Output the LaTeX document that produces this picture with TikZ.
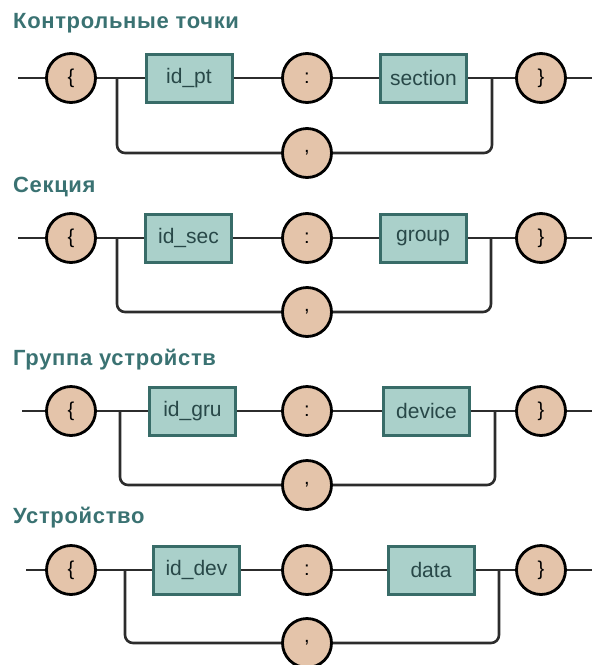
\documentclass[tikz,border=0pt]{standalone}
\usepackage{fontspec}
\setmainfont{Liberation Sans}
\newfontfamily\headfont[LetterSpace=3]{Liberation Sans}
\definecolor{titleteal}{RGB}{58,114,114}
\definecolor{boxfill}{RGB}{170,208,202}
\definecolor{boxedge}{RGB}{56,108,104}
\definecolor{boxtext}{RGB}{40,72,72}
\definecolor{tokfill}{RGB}{228,196,170}
\definecolor{wire}{RGB}{44,44,44}
\tikzset{
  heading/.style={anchor=base west, inner sep=0pt, text=titleteal,
    font=\headfont\fontsize{22}{22}\selectfont\bfseries},
  token/.style={circle, draw=black, fill=tokfill, line width=2.8pt,
    minimum size=49pt, inner sep=0pt, font=\fontsize{20}{20}\selectfont},
  rule/.style={rectangle, draw=boxedge, fill=boxfill, line width=3pt,
    minimum width=86pt, minimum height=48pt, inner sep=0pt,
    text=boxtext, font=\fontsize{21}{21}\selectfont},
  conn/.style={draw=wire, line width=2.6pt},
  loop/.style={conn, rounded corners=8pt},
}
\begin{document}
\begin{tikzpicture}[x=1pt,y=-1pt]
\useasboundingbox (0,0) rectangle (592,665);
\foreach \r/\ty/\my/\ly/\ls/\ba/\bb/\bl/\br/\ttl/\la/\lb in {
  1/28/78/153/18/189/423.5/117/492/{Контрольные точки}/{id\_pt}/{section},
  2/192/238/312/18/188.5/423/117/491/{Секция}/{id\_sec}/{group},
  3/365/411/485/22/192.5/426.5/120/495/{Группа устройств}/{id\_gru}/{device},
  4/523/570/643/26/196.5/431/125/499/{Устройство}/{id\_dev}/{data}}{
  % heading of the rule
  \node[heading] (t\r) at (13,\ty) {\ttl};
  % track ends and branch points
  \coordinate (s\r) at (\ls,\my);
  \coordinate (e\r) at (592,\my);
  \coordinate (jl\r) at (\bl,\my);
  \coordinate (jr\r) at (\br,\my);
  % tokens and rule boxes
  \node[token] (lb\r) at (71,\my) {\{};
  \node[rule]  (ka\r) at (\ba,\my) {\la};
  \node[token] (cl\r) at (307,\my) {:};
  \node[rule]  (vb\r) at (\bb,\my) {\lb};
  \node[token] (rb\r) at (541,\my) {\}};
  \node[token] (cm\r) at (307,\ly) {,};
  % main track
  \draw[conn] (s\r) -- (lb\r);
  \draw[conn] (lb\r) -- (ka\r);
  \draw[conn] (ka\r) -- (cl\r);
  \draw[conn] (cl\r) -- (vb\r);
  \draw[conn] (vb\r) -- (rb\r);
  \draw[conn] (rb\r) -- (e\r);
  % repeat loop through the comma
  \draw[loop] (jl\r) |- (cm\r);
  \draw[loop] (cm\r) -| (jr\r);
}
\end{tikzpicture}
\end{document}
